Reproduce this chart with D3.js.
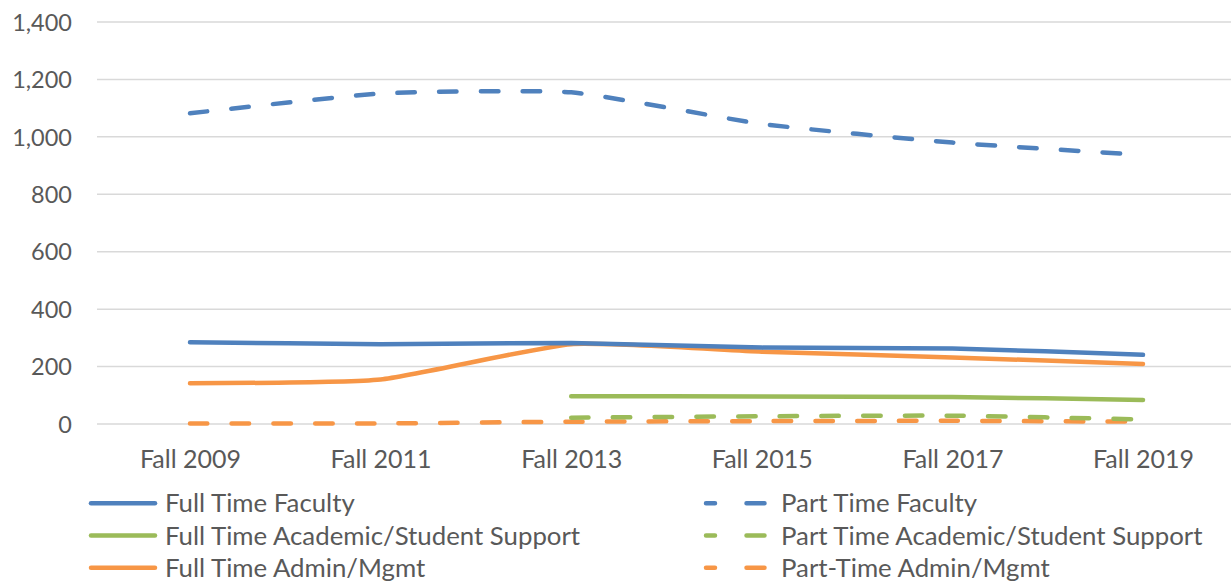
<!DOCTYPE html>
<html><head><meta charset="utf-8">
<script src="https://cdn.jsdelivr.net/npm/d3@7"></script>
<style>body{margin:0;background:#fff}svg{display:block}text{font-family:"Lato","Open Sans",sans-serif;fill:#595959}</style>
</head><body>
<svg id="c" width="1231" height="582"></svg>
<script>
const categories = ["Fall 2009","Fall 2011","Fall 2013","Fall 2015","Fall 2017","Fall 2019"];
const yTicks = [0,200,400,600,800,1000,1200,1400];
const fullTimeFaculty = [285, 278, 282, 266, 263, 241];
const partTimeFaculty = [1082, 1151, 1155, 1045, 980, 937];
const fullTimeAcademic = [null, null, 97, 96, 94, 84];
const partTimeAcademic = [null, null, 22, 27, 29, 16];
const fullTimeAdmin = [142, 155, 278, 252, 232, 209];
const partTimeAdmin = [2, 2, 8, 10, 11, 8];

const series = [
  {name:"Full Time Faculty", values:fullTimeFaculty, color:"#4F81BD", dashed:false},
  {name:"Part Time Faculty", values:partTimeFaculty, color:"#4F81BD", dashed:true},
  {name:"Full Time Academic/Student Support", values:fullTimeAcademic, color:"#9BBB59", dashed:false},
  {name:"Part Time Academic/Student Support", values:partTimeAcademic, color:"#9BBB59", dashed:true},
  {name:"Full Time Admin/Mgmt", values:fullTimeAdmin, color:"#F79646", dashed:false},
  {name:"Part-Time Admin/Mgmt", values:partTimeAdmin, color:"#F79646", dashed:true}
];

const svg = d3.select("#c");
const x = d3.scalePoint().domain(categories).range([190, 1143]);
const y = d3.scaleLinear().domain([0,1400]).range([424, 22]);

svg.append("g").selectAll("line").data(yTicks).join("line")
  .attr("x1",97).attr("x2",1231).attr("y1",d=>y(d)).attr("y2",d=>y(d))
  .attr("stroke","#d9d9d9").attr("stroke-width",1.5);

const yAxis = d3.axisLeft(y).tickValues(yTicks).tickFormat(d3.format(",")).tickSize(0).tickPadding(0);
const ya = svg.append("g").attr("transform","translate(72,0)").call(yAxis);
ya.select(".domain").remove();
ya.selectAll("text").attr("font-size",23.5).attr("fill","#595959").attr("font-family",null).attr("dy","0.35em");

const xAxis = d3.axisBottom(x).tickSize(0).tickPadding(0);
const xa = svg.append("g").attr("transform","translate(0,450)").call(xAxis);
xa.select(".domain").remove();
xa.selectAll("text").attr("font-size",25).attr("fill","#595959").attr("font-family",null).attr("dy","0.71em");

const line = d3.line().x(d=>x(d.c)).y(d=>y(d.v)).curve(d3.curveCardinal.tension(0.5));

const order = [5,3,1,4,2,0];
order.forEach(i=>{
  const s = series[i];
  svg.append("path")
    .datum(categories.map((c,j)=>({c, v:s.values[j]})).filter(d=>d.v!=null))
    .attr("d", line)
    .attr("fill","none").attr("stroke",s.color).attr("stroke-width",4.5)
    .attr("stroke-linecap","round").attr("stroke-linejoin","round")
    .attr("stroke-dasharray", s.dashed ? "17.5,24.2" : null);
});

const LFS = 25.8;
const lg = svg.append("g");
series.forEach((s,i)=>{
  const row = Math.floor(i/2);
  const ly = 503.3 + row*32.2;
  if(!s.dashed){
    lg.append("line").attr("x1",91).attr("x2",155).attr("y1",ly).attr("y2",ly)
      .attr("stroke",s.color).attr("stroke-width",4.5).attr("stroke-linecap","round");
    lg.append("text").attr("x",165).attr("y",ly).attr("dy","0.35em").attr("font-size",LFS).text(s.name);
  } else {
    lg.append("line").attr("x1",706).attr("x2",764.5).attr("y1",ly).attr("y2",ly)
      .attr("stroke",s.color).attr("stroke-width",4.5).attr("stroke-linecap","round")
      .attr("stroke-dasharray","9,31.5,18");
    lg.append("text").attr("x",781).attr("y",ly).attr("dy","0.35em").attr("font-size",LFS).text(s.name);
  }
});
</script>
</body></html>
